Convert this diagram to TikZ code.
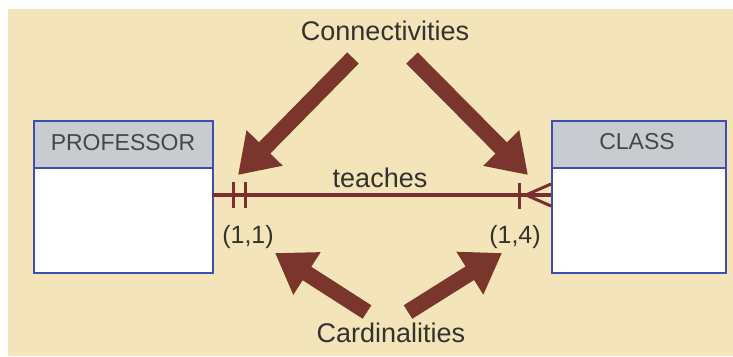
\documentclass[tikz,border=0pt]{standalone}
\usepackage{fontspec}
\setmainfont{Liberation Sans}
\usetikzlibrary{arrows.meta}
\definecolor{bg}{RGB}{243,228,186}
\definecolor{maroon}{RGB}{122,54,44}
\definecolor{relc}{RGB}{125,44,48}
\definecolor{entblue}{RGB}{60,78,175}
\definecolor{hdrgray}{RGB}{200,203,208}
\definecolor{txt}{RGB}{52,50,45}
\tikzset{
  hdr/.style={draw=entblue, line width=2pt, fill=hdrgray, inner sep=0pt, anchor=north west},
  body/.style={draw=entblue, line width=2pt, fill=white, inner sep=0pt, anchor=north west},
  bigarrow/.style={draw=maroon, line width=16pt, -{Triangle[width=48pt,length=38pt]}, fill=maroon},
  rel/.style={draw=relc, line width=3.5pt},
  bar/.style={draw=relc, line width=3pt},
  lbl/.style={text=txt, font=\fontsize{27}{30}\selectfont, anchor=base, inner sep=0pt},
  ename/.style={text=txt!90!white, font=\fontsize{23}{26}\selectfont, anchor=base, inner sep=0pt},
  card/.style={text=txt, font=\fontsize{25}{28}\selectfont, anchor=base, inner sep=0pt}
}
\begin{document}
\begin{tikzpicture}[x=1pt,y=-1pt]
\fill[white] (0,0) rectangle (733,356);
\fill[bg] (8,9) rectangle (733,356);
\useasboundingbox (0,0) rectangle (733,356);

% entities
\node[hdr, minimum width=179pt, minimum height=47pt] (profh) at (33,120) {};
\node[body, minimum width=179pt, minimum height=105pt] (profb) at (33,167) {};
\node[ename] (profname) at (123,150) {PROFESSOR};
\node[hdr, minimum width=174pt, minimum height=47pt] (clsh) at (551,120) {};
\node[body, minimum width=174pt, minimum height=105pt] (clsb) at (551,167) {};
\node[ename] (clsname) at (637,149) {CLASS};

% relationship line
\coordinate (pl) at (212,195);
\coordinate (cr) at (551,195);
\draw[rel] (pl) -- (cr);
\node[lbl] (teaches) at (380,187) {teaches};
% (1,1) side: two bars
\draw[bar] (233,182) -- (233,208);
\draw[bar] (245,182) -- (245,208);
% (1,4) side: bar and crow's foot
\draw[bar] (519,183) -- (519,209);
\coordinate (cf) at (526,195);
\draw[bar] (cf) -- (551,184);
\draw[bar] (cf) -- (551,206);

\node[card] (c11) at (248,243) {(1,1)};
\node[card] (c14) at (515,243) {(1,4)};

% labels
\node[lbl] (conn) at (385,40) {Connectivities};
\node[lbl] (cardn) at (391,342) {Cardinalities};

% arrows
\coordinate (a1s) at (353,58);  \coordinate (a1e) at (238,175);
\coordinate (a2s) at (412,58);  \coordinate (a2e) at (528,175);
\coordinate (a3s) at (367,312); \coordinate (a3e) at (275,253);
\coordinate (a4s) at (408,312); \coordinate (a4e) at (502,253);
\draw[bigarrow] (a1s) -- (a1e);
\draw[bigarrow] (a2s) -- (a2e);
\draw[bigarrow] (a3s) -- (a3e);
\draw[bigarrow] (a4s) -- (a4e);
\end{tikzpicture}
\end{document}
